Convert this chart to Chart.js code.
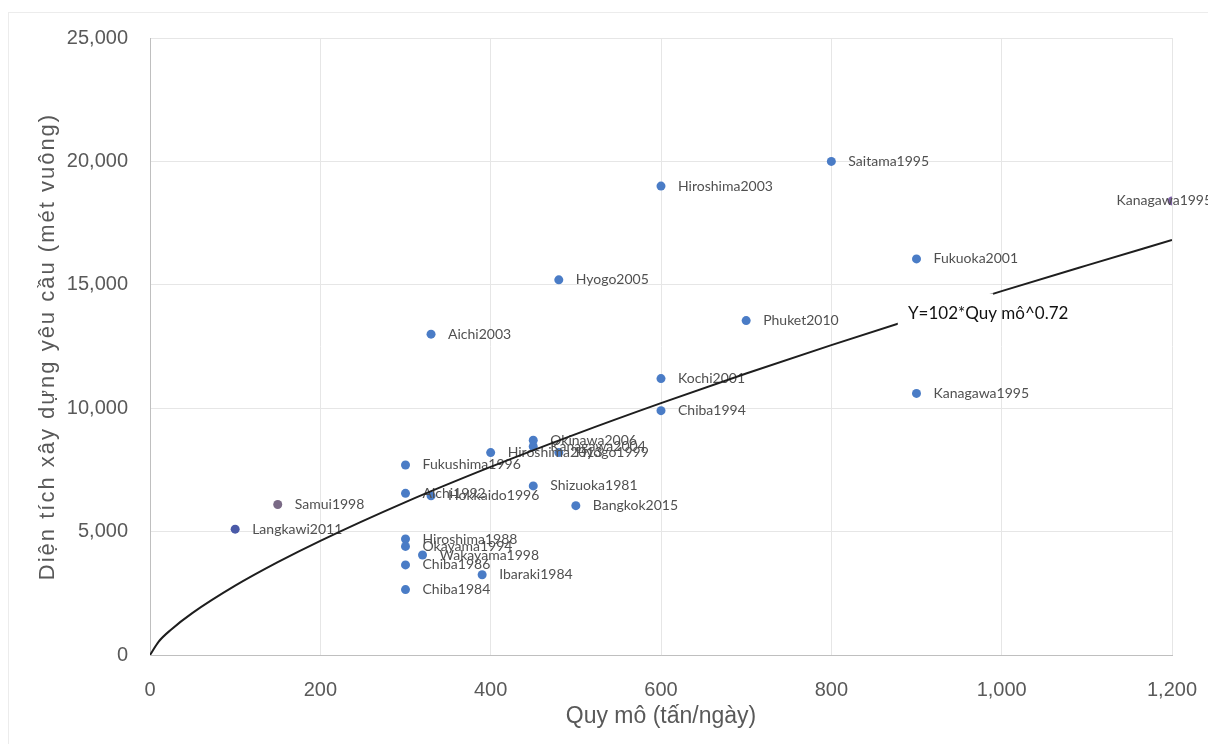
<!DOCTYPE html>
<html>
<head>
<meta charset="utf-8">
<script src="https://cdn.jsdelivr.net/npm/chart.js@4"></script>
<style>
  html, body { margin: 0; padding: 0; background: #fff; }
  #wrap { width: 1208px; height: 744px; }
</style>
</head>
<body>
<div id="wrap"><canvas id="ScaleChart" width="1208" height="744"></canvas></div>
<script>
// plant names, scale (t/day) and required building area (m2)
const plantNames = [
	"Saitama1995", "Hiroshima2003", "Kanagawa1995", "Fukuoka2001", "Hyogo2005",
	"Phuket2010", "Aichi2003", "Kochi2001", "Chiba1994", "Kanagawa1995",
	"Okinawa2006", "Kanagawa2004", "Hiroshima2013", "Hyogo1999", "Fukushima1996",
	"Shizuoka1981", "Aichi1992", "Hokkaido1996", "Bangkok2015", "Samui1998",
	"Langkawi2011", "Hiroshima1988", "Okayama1994", "Wakayama1998", "Chiba1986",
	"Ibaraki1984", "Chiba1984",
]
const plantScale = [
	800, 600, 1200, 900, 480,
	700, 330, 600, 600, 900,
	450, 450, 400, 480, 300,
	450, 300, 330, 500, 150,
	100, 300, 300, 320, 300,
	390, 300,
]
const plantArea = [
	20000, 19000, 18400, 16050, 15200,
	13550, 13000, 11200, 9900, 10600,
	8700, 8450, 8200, 8200, 7700,
	6850, 6550, 6450, 6050, 6100,
	5100, 4700, 4400, 4050, 3650,
	3250, 2650,
]

// fitted curve Y = 102 * x^0.72, read at these scales
const trendScale = [0, 10, 25, 50, 100, 150, 200, 300, 400, 500, 600, 700, 800, 900, 1000, 1100, 1200]
const trendArea = [0, 535, 1035, 1706, 2809, 3762, 4628, 6197, 7623, 8952, 10206, 11404, 12555, 13668, 14743, 15787, 16818]
const trendText = "Y=102*Quy mô^0.72"

const xTicks = [0, 200, 400, 600, 800, 1000, 1200]
const yTicks = [0, 5000, 10000, 15000, 20000, 25000]
const xTitle = "Quy mô (tấn/ngày)"
const yTitle = "Diện tích xây dựng yêu cầu (mét vuông)"

const markerColors = plantNames.map((name, i) => {
	if (name === "Samui1998") return "#7a6a86"
	if (name === "Langkawi2011") return "#4a5aa8"
	if (name === "Kanagawa1995" && plantScale[i] === 1200) return "#8062a8"
	return "#4a7cc6"
})

const pointLabels = {
	id: "pointLabels",
	afterDatasetDraw(chart, args) {
		if (args.index !== 0) return
		const ctx = chart.ctx
		ctx.save()
		ctx.font = "14px Lato"
		ctx.fillStyle = "#505050"
		ctx.textBaseline = "middle"
		args.meta.data.forEach((pt, i) => {
			const label = plantNames[i]
			const w = ctx.measureText(label).width
			let tx = pt.x + 17
			if (tx + w > chart.width) tx = pt.x - w * 0.58
			ctx.fillText(label, tx, pt.y)
		})
		ctx.restore()
	},
	afterDatasetsDraw(chart) {
		const ctx = chart.ctx
		const xs = chart.scales.x
		const ys = chart.scales.y
		// white box behind the equation, cutting the curve like the original
		const x0 = xs.getPixelForValue(878)
		const x1 = xs.getPixelForValue(990)
		const y0 = ys.getPixelForValue(14650)
		const y1 = ys.getPixelForValue(12950)
		ctx.save()
		ctx.fillStyle = "#fff"
		ctx.fillRect(x0, y0, x1 - x0, y1 - y0)
		ctx.font = "17px Lato"
		ctx.fillStyle = "#111"
		ctx.textBaseline = "middle"
		ctx.fillText(trendText, xs.getPixelForValue(890), ys.getPixelForValue(13850))
		ctx.restore()
	},
	beforeDraw(chart) {
		const ctx = chart.ctx
		ctx.save()
		ctx.strokeStyle = "#ececec"
		ctx.lineWidth = 1
		ctx.strokeRect(8.5, 12.5, 1205, 740)
		ctx.restore()
	},
	afterDraw(chart) {
		// y title drawn by hand for the wider letter spacing of the original
		const ctx = chart.ctx
		const ys = chart.scales.y
		ctx.save()
		ctx.translate(48, (ys.top + ys.bottom) / 2)
		ctx.rotate(-Math.PI / 2)
		ctx.font = "22px 'Liberation Sans'"
		ctx.letterSpacing = "2px"
		ctx.fillStyle = "#595959"
		ctx.textAlign = "center"
		ctx.textBaseline = "middle"
		ctx.fillText(yTitle, 0, 0)
		ctx.restore()
	},
}

const gridColor = (c) => (c.tick && c.tick.value === 0 ? "#bfbfbf" : "#e6e6e6")

new Chart(document.getElementById("ScaleChart").getContext("2d"), {
	type: "scatter",
	data: {
		datasets: [
			{
				label: "Plants",
				data: plantScale.map((x, i) => ({ x, y: plantArea[i] })),
				pointRadius: 4.5,
				pointHoverRadius: 4.5,
				pointBackgroundColor: markerColors,
				pointBorderColor: markerColors,
				pointBorderWidth: 0,
				order: 2,
			},
			{
				label: "Trend",
				data: trendScale.map((x, i) => ({ x, y: trendArea[i] })),
				showLine: true,
				cubicInterpolationMode: "monotone",
				borderColor: "#1e1e1e",
				borderWidth: 2,
				pointRadius: 0,
				order: 1,
			},
		],
	},
	options: {
		responsive: false,
		animation: false,
		events: [],
		layout: { padding: { left: 0, right: 36, top: 38, bottom: 0 } },
		plugins: { legend: { display: false }, tooltip: { enabled: false } },
		scales: {
			x: {
				type: "linear",
				min: 0,
				max: 1200,
				afterBuildTicks: (s) => { s.ticks = xTicks.map((v) => ({ value: v })) },
				afterFit: (s) => {
					s.height = 89
					s.paddingLeft = 0
					s.paddingRight = 0
				},
				grid: { color: gridColor, drawTicks: false, lineWidth: 1 },
				border: { color: "#bfbfbf" },
				ticks: {
					padding: 23,
					color: "#595959",
					font: { family: "Liberation Sans", size: 20 },
					callback: (v) => v.toLocaleString("en-US"),
				},
				title: {
					display: true,
					text: xTitle,
					color: "#595959",
					font: { family: "Liberation Sans", size: 23 },
					padding: { top: 0, bottom: 14 },
				},
			},
			y: {
				type: "linear",
				min: 0,
				max: 25000,
				afterBuildTicks: (s) => { s.ticks = yTicks.map((v) => ({ value: v })) },
				afterFit: (s) => {
					s.width = 150
					s.paddingTop = 0
					s.paddingBottom = 0
				},
				grid: { color: gridColor, drawTicks: false, lineWidth: 1 },
				border: { color: "#bfbfbf" },
				ticks: {
					padding: 22,
					color: "#595959",
					font: { family: "Liberation Sans", size: 20 },
					callback: (v) => v.toLocaleString("en-US"),
				},
				title: { display: false },
			},
		},
	},
	plugins: [pointLabels],
})
</script>
</body>
</html>
